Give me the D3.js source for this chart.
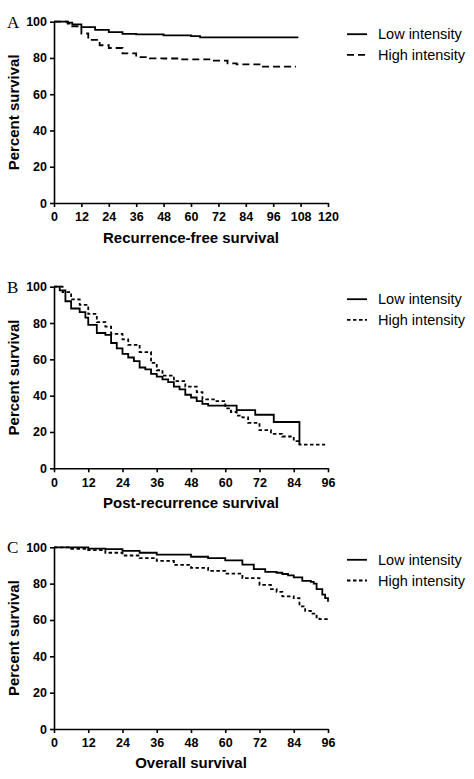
<!DOCTYPE html>
<html><head><meta charset="utf-8">
<script src="https://cdn.jsdelivr.net/npm/d3@7"></script>
<style>body{margin:0;background:#fff}text{font-family:"Liberation Sans",Arial,sans-serif}</style>
</head><body>
<svg width="474" height="779"></svg>
<script>
// survival curves, [month, percent]
var rfsLow = [[0,100],[4,100],[6,99.5],[8,98.5],[12,97],[18,95.5],[24,94.3],[30,93.3],[36,93],[48,92.5],[60,92],[64,91.3],[107,91.3]];
var rfsHigh = [[0,100],[6,99],[8,97.5],[12,93.5],[15,90],[20,87],[24,85.5],[30,82.5],[36,80.5],[42,79.8],[48,79.7],[54,79.2],[66,79.2],[70,78.5],[76,77],[80,76.5],[90,75.2],[106,75.2]];
var prsLow = [[0,100],[2,98],[4,92],[6,88],[9,86],[11,83],[12,79],[15,74.5],[18,73.5],[20,69],[22,66],[24,63],[26,61],[28,59],[30,55.5],[32,54.5],[34,52],[36,50.5],[38,49],[40,47.5],[42,45],[44,43.5],[46,40.5],[48,39],[50,37],[52,35.5],[54,34.5],[62,34.5],[64,32],[70,32],[70.5,29.5],[76,29.5],[77,25.5],[85,25.5],[86,13],[86,13]];
var prsHigh = [[0,100],[3,97],[6,93],[9,90],[12,85],[15,80.5],[18,78],[20,74],[24,71],[26,68],[30,64],[34,58],[36,54],[38,51],[42,48],[46,45],[50,42],[52,38],[56,37],[60,33],[62,31],[64,29],[66,28],[68,25],[72,21],[76,19],[80,17.5],[84,15],[86,13],[95,13]];
var osLow = [[0,100],[12,99.3],[18,99],[24,98],[30,97],[36,96],[48,94.8],[54,94],[60,92.8],[66,90.5],[70,88],[74,86.5],[78,86],[80,85.3],[82,84.6],[84,83.5],[87,81.5],[90,81],[91,80],[92,77],[94,74],[95,72],[96,70]];
var osHigh = [[0,100],[6,99.2],[12,98.4],[18,97],[24,95.5],[30,94],[36,92.5],[42,90.3],[48,88.7],[54,87],[60,85.5],[66,83],[72,79.3],[76,77],[78,75.5],[80,73],[84,72],[86,67.5],[88,65],[90,63.5],[92,61.5],[93,60.5],[96,60.5]];
var yTicks = [0,20,40,60,80,100];
var xTicksA = [0,12,24,36,48,60,72,84,96,108,120];
var xTicks96 = [0,12,24,36,48,60,72,84,96];
var legendLabels = ["Low intensity","High intensity"];

var svg = d3.select("svg");

var panels = [
  {letter:"A", top:21.7, bottom:203, xmax:120, ticks:xTicksA, title:"Recurrence-free survival", low:rfsLow, high:rfsHigh, dash:"7,4", titleY:243},
  {letter:"B", top:286.7, bottom:468.3, xmax:96, ticks:xTicks96, title:"Post-recurrence survival", low:prsLow, high:prsHigh, dash:"3.5,2.5", titleY:508},
  {letter:"C", top:547.3, bottom:729, xmax:96, ticks:xTicks96, title:"Overall survival", low:osLow, high:osHigh, dash:"3.5,2.5", titleY:768}
];

panels.forEach(function(p) {
  var x = d3.scaleLinear().domain([0, p.xmax]).range([54, 328]);
  var y = d3.scaleLinear().domain([0, 100]).range([p.bottom, p.top]);
  var g = svg.append("g");

  var xa = g.append("g").attr("transform", "translate(0," + p.bottom + ")")
      .call(d3.axisBottom(x).tickValues(p.ticks).tickSize(4).tickSizeOuter(0));
  var ya = g.append("g").attr("transform", "translate(54,0)")
      .call(d3.axisLeft(y).tickValues(yTicks).tickSize(4).tickSizeOuter(0));
  [xa, ya].forEach(function(a) {
    a.selectAll("path,line").attr("stroke", "#000").attr("stroke-width", 1.6);
    a.selectAll("text").style("font-size", "12.5px").style("font-weight", "bold").attr("fill", "#000");
  });
  xa.selectAll("text").attr("dy", "0.9em");

  var line = d3.line().curve(d3.curveStepAfter)
      .x(function(d) { return x(d[0]); })
      .y(function(d) { return y(d[1]); });
  g.append("path").datum(p.low).attr("d", line)
      .attr("fill", "none").attr("stroke", "#000").attr("stroke-width", 1.8);
  g.append("path").datum(p.high).attr("d", line)
      .attr("fill", "none").attr("stroke", "#000").attr("stroke-width", 1.8).attr("stroke-dasharray", p.dash);

  g.append("text").attr("x", 7).attr("y", p.top + 6)
      .style("font-family", "'Liberation Serif',serif").style("font-size", "17px").text(p.letter);
  g.append("text").attr("transform", "translate(19," + ((p.top + p.bottom) / 2) + ") rotate(-90)")
      .attr("text-anchor", "middle").style("font-size", "15px").style("font-weight", "bold").text("Percent survival");
  g.append("text").attr("x", 191).attr("y", p.titleY).attr("text-anchor", "middle")
      .style("font-size", "15px").style("font-weight", "bold").text(p.title);

  legendLabels.forEach(function(lab, i) {
    var ly = p.top + 12.5 + i * 20.7;
    g.append("line").attr("x1", 347).attr("x2", 367).attr("y1", ly).attr("y2", ly)
        .attr("stroke", "#000").attr("stroke-width", 1.8)
        .attr("stroke-dasharray", i ? p.dash : null);
    g.append("text").attr("x", 378).attr("y", ly + 5).style("font-size", "14.5px").text(lab);
  });
});
</script>
</body></html>
